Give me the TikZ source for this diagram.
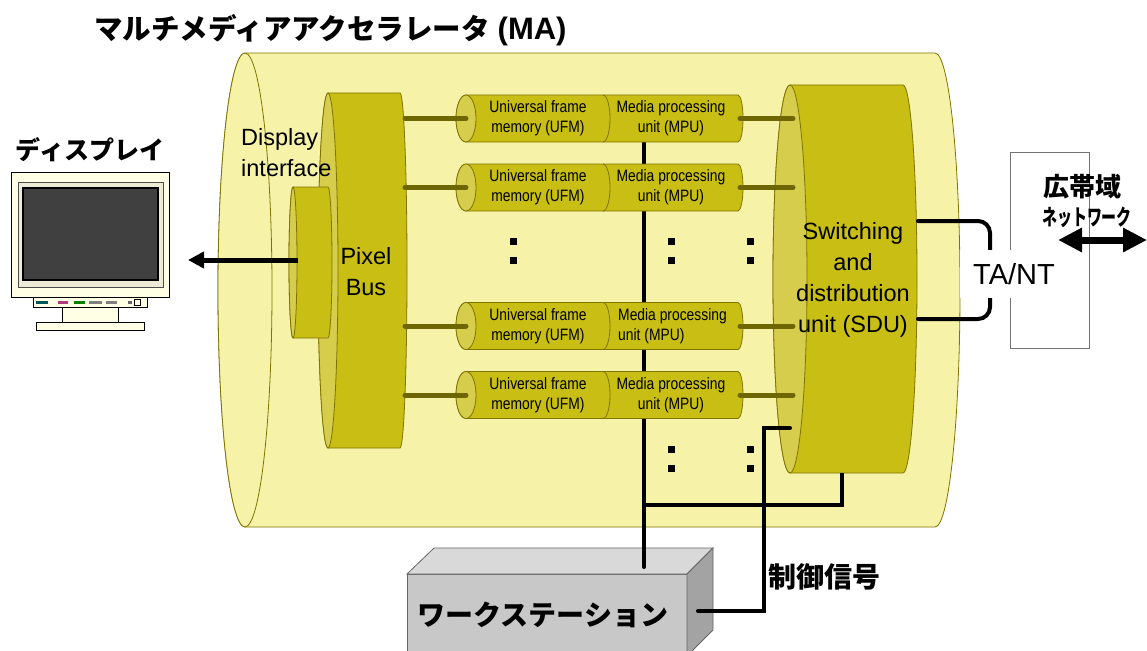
\documentclass[tikz,border=0pt]{standalone}
\usepackage{fontspec}
\setmainfont{Liberation Sans}
\newfontfamily\jp{Noto Sans CJK JP}
\newfontfamily\cond{Liberation Sans}[FakeStretch=0.84]
\usetikzlibrary{arrows.meta}

\definecolor{shell}{HTML}{F6F3A9}
\definecolor{unitbody}{HTML}{C9BE13}
\definecolor{unitface}{HTML}{D6CD4C}
\definecolor{edge}{HTML}{7E7400}
\definecolor{linkol}{HTML}{6E6600}
\definecolor{cream}{HTML}{FFFFE6}
\definecolor{bezel}{HTML}{ECEBD6}
\definecolor{wsfront}{HTML}{C8C8C8}
\definecolor{wstop}{HTML}{D9D9D9}
\definecolor{wsside}{HTML}{A3A3A3}

\begin{document}
\begin{tikzpicture}[x=1pt,y=-1pt,
  shellsty/.style={fill=shell,draw=edge,line width=0.8pt},
  bodysty/.style={fill=unitbody,draw=edge,line width=0.8pt},
  facesty/.style={fill=unitface,draw=edge,line width=0.8pt},
  link/.style={draw=linkol,line width=5pt,line cap=round},
  wire/.style={draw=black,line width=4pt,line cap=round},
  dotsq/.style={fill=black,minimum size=7pt,inner sep=0pt},
  big/.style={inner sep=0pt,align=center,font=\fontsize{23.5}{31}\selectfont},
  small/.style={inner sep=0pt,align=center,font=\cond\fontsize{16.5}{20}\selectfont},
  jplabel/.style={inner sep=0pt,font=\jp\bfseries\fontsize{28}{28}\selectfont},
  mon/.style={draw=black,line width=0.8pt},
  wsface/.style={draw=black!60,line width=0.8pt}]
\useasboundingbox (0,0) rectangle (1147,650);

% ---------- title ----------
\node[anchor=west,inner sep=0pt,font=\bfseries\fontsize{28.5}{28}\selectfont] (title) at (94,30)
  {{\jp マルチメディアアクセラレータ} {\fontsize{31}{31}\selectfont(MA)}};

% ---------- outer accelerator shell ----------
\path[shellsty] (245,53) -- (935,53)
  arc[start angle=-90,end angle=90,x radius=25,y radius=237]
  -- (245,527) arc[start angle=90,end angle=270,x radius=27,y radius=237] -- cycle;
\path[shellsty] (245,290) ellipse[x radius=27,y radius=237];

% ---------- TA/NT box ----------
\node[draw=black!55,fill=white,line width=0.8pt,minimum width=79pt,minimum height=196pt,inner sep=0pt] (tant) at (1049.5,250) {};

% ---------- workstation ----------
\path[wsface,fill=wsfront] (407,574) rectangle (687,665);
\path[wsface,fill=wstop] (407,574) -- (434,548) -- (713,548) -- (687,574) -- cycle;
\path[wsface,fill=wsside] (687,574) -- (713,548) -- (713,630) -- (687,656) -- cycle;
\node[jplabel] (ws) at (543,615) {ワークステーション};
\coordinate (wsTop) at (644,567);
\coordinate (wsRight) at (698,611);

% ---------- MPU control bus (behind the units) ----------
\coordinate (busTop) at (644,118);
\draw[wire] (busTop) -- (wsTop);

% ---------- pixel bus ----------
\path[bodysty] (328,93) -- (400,93)
  arc[start angle=-90,end angle=90,x radius=7,y radius=177.5]
  -- (328,448) arc[start angle=90,end angle=270,x radius=10,y radius=177.5] -- cycle;
\path[facesty] (328,270.5) ellipse[x radius=10,y radius=177.5];
\node[big] (pbus) at (366,272) {Pixel\\Bus};

% ---------- display interface ----------
\path[bodysty] (293,187) -- (328,187)
  arc[start angle=-90,end angle=90,x radius=4,y radius=75.5]
  -- (293,338) arc[start angle=90,end angle=270,x radius=4,y radius=75.5] -- cycle;
\path[facesty] (293,262.5) ellipse[x radius=4,y radius=75.5];
\node[big,align=left,anchor=west] (dif) at (241,153) {Display\\interface};
\coordinate (difOut) at (298,260);

% ---------- UFM / MPU units ----------
\foreach \i/\yc in {1/118.5,2/187.5,3/326,4/395}{
  \path[bodysty] (466,\yc-23.5) -- (738,\yc-23.5)
    arc[start angle=-90,end angle=90,x radius=5,y radius=23.5]
    -- (466,\yc+23.5) arc[start angle=90,end angle=270,x radius=10,y radius=23.5] -- cycle;
  \draw[edge,line width=0.8pt] (603,\yc-23.5) arc[start angle=-90,end angle=90,x radius=7,y radius=23.5];
  \path[facesty] (466,\yc) ellipse[x radius=10,y radius=23.5];
  \node[small] (ufm\i) at (538,\yc) {Universal frame\\memory (UFM)};
  \coordinate (ufmIn\i) at (466,\yc);
  \coordinate (pbOut\i) at (405,\yc);
  \coordinate (mpuOut\i) at (740,\yc);
  \coordinate (sduIn\i) at (793,\yc);
}
\node[small] (mpu1) at (671,118.5) {Media processing\\unit (MPU)};
\node[small] (mpu2) at (671,187.5) {Media processing\\unit (MPU)};
\node[small,align=left,anchor=west] (mpu3) at (618,326) {Media processing\\unit (MPU)};
\node[small] (mpu4) at (671,395) {Media processing\\unit (MPU)};

% ---------- switching and distribution unit ----------
\path[bodysty] (790,85) -- (903,85)
  arc[start angle=-90,end angle=90,x radius=14,y radius=194]
  -- (790,473) arc[start angle=90,end angle=270,x radius=17,y radius=194] -- cycle;
\path[facesty] (790,279) ellipse[x radius=17,y radius=194];
\node[big] (sdu) at (853,280) {Switching\\and\\distribution\\unit (SDU)};
\coordinate (sduFoot) at (842,473);
\coordinate (sduCtrl) at (790,428);
\coordinate (sduT) at (918,221);
\coordinate (sduB) at (918,319);

% ---------- bus links ----------
\foreach \i in {1,2,3,4}{
  \draw[link] (pbOut\i) -- (ufmIn\i);
  \draw[link] (mpuOut\i) -- (sduIn\i);
}

% ---------- continuation dots ----------
\foreach \x/\y in {513/241,513/260,671/241,671/260,750/241,750/260,671/449,671/468,750/449,750/468}
  \node[dotsq] at (\x,\y) {};

% ---------- control wiring ----------
\coordinate (jn) at (644,505);
\draw[wire,line cap=butt] (jn) -| (sduFoot);
\draw[wire] (wsRight) -- ++(66,0) |- (sduCtrl);
\node[jplabel,anchor=west] (ctrl) at (768,577) {制御信号};

% ---------- network side ----------
\draw[wire,rounded corners=12pt] (sduT) -| (990,262);
\draw[wire,rounded corners=12pt] (sduB) -| (990,288);
\node[fill=white,inner sep=0pt,minimum width=108pt,minimum height=48pt,font=\fontsize{29}{29}\selectfont] (ta) at (1014,274) {TA/NT};

\node[inner sep=0pt,font=\jp\bfseries\fontsize{26}{26}\selectfont] (bb) at (1082,187) {広帯域};
\node[inner sep=0pt,font=\jp\bfseries\fontsize{22}{22}\selectfont] (nw) at (1087,217) {\scalebox{0.68}[1]{ネットワーク}};
\coordinate (netL) at (1058,240);
\coordinate (netR) at (1147,240);
\draw[line width=7pt,{Triangle[length=24pt,width=23pt]}-{Triangle[length=24pt,width=23pt]}] (netL) -- (netR);

% ---------- display ----------
\node[inner sep=0pt,font=\jp\bfseries\fontsize{25}{25}\selectfont] (disp) at (90,150) {ディスプレイ};
\path[mon,fill=cream] (11,172) rectangle (169,297);
\path[mon,draw=black!70,fill=bezel] (18,182) rectangle (163,287);
\path[draw=black,line width=2pt,fill=black!75] (23,188) rectangle (158,280);
\path[mon,fill=cream] (33,297) rectangle (147,307);
\foreach \a/\b/\c in {36/48/teal!70!black,58/68/magenta!70!black,74/85/green!50!black,89/102/black!50,106/117/black!50,128/132/black!60}
  \fill[\c] (\a,301) rectangle (\b,304);
\path[mon,fill=cream] (134,299) rectangle (140,305);
\path[mon,fill=cream] (62,307) rectangle (118,322);
\path[mon,fill=cream] (36,322) rectangle (144,330);
\coordinate (monIn) at (188,260);
\draw[line width=5pt,-{Triangle[length=16pt,width=16pt]}] (difOut) -- (monIn);
\end{tikzpicture}
\end{document}
